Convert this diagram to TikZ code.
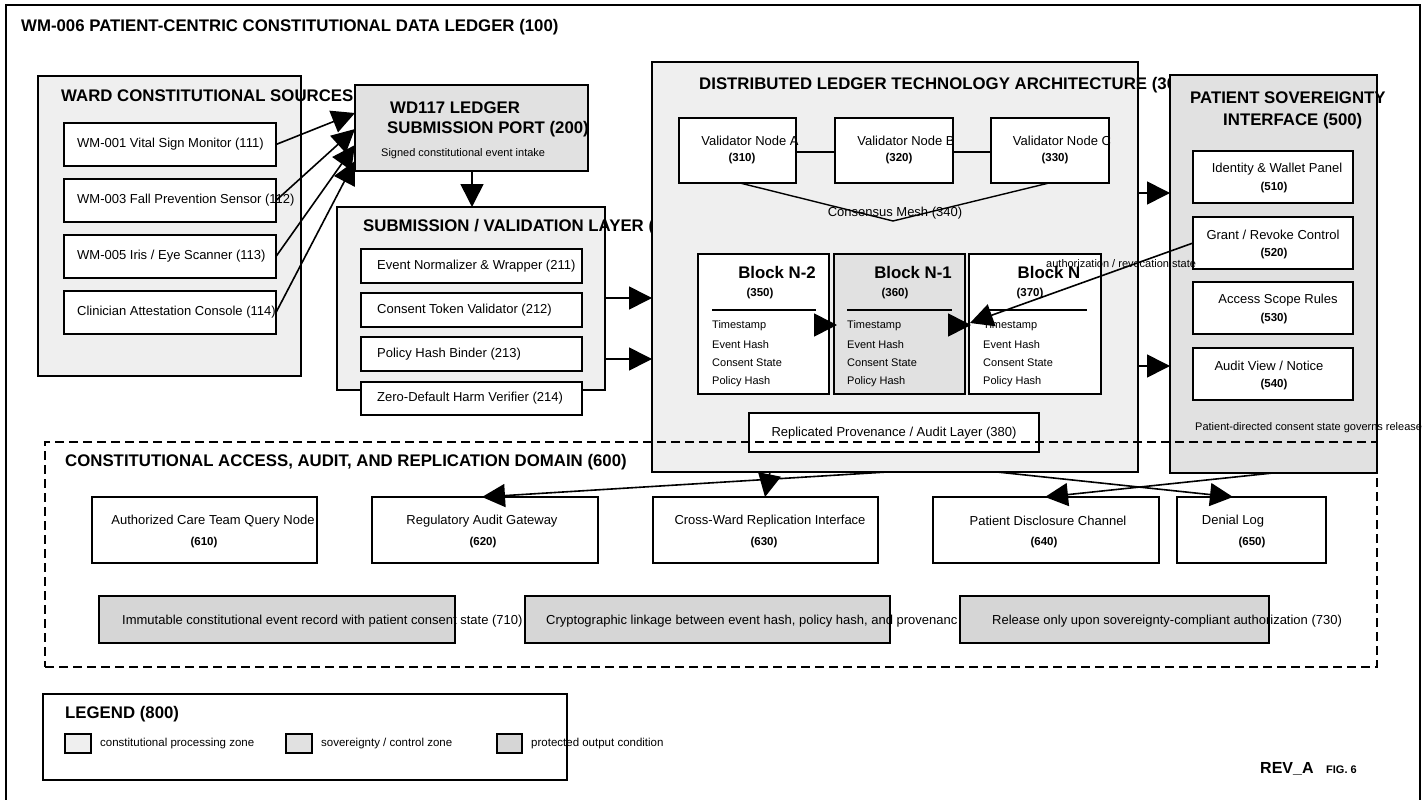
\documentclass[tikz,border=0pt]{standalone}
\usepackage{fontspec}
\setmainfont{Liberation Sans}
\usetikzlibrary{arrows.meta,calc}
\definecolor{zoneA}{HTML}{EFEFEF}
\definecolor{zoneB}{HTML}{E1E1E1}
\definecolor{zoneC}{HTML}{D6D6D6}
% \rbox[style]{name}{x1}{y1}{x2}{y2}: rectangle node from top-left to bottom-right
\newcommand\rbox[6][]{\node[box,#1,minimum width={(#5-#3)*1pt},minimum height={(#6-#4)*1pt}] (#2) at (#3,#4) {};}
\begin{document}
\begin{tikzpicture}[x=1pt,y=-1pt,
  box/.style={draw=black,line width=1.6pt,inner sep=0pt,outer sep=0pt,anchor=north west,fill=white},
  ttl/.style={font=\fontsize{16.8}{19}\selectfont\bfseries,inner sep=0pt,anchor=west},
  lbl/.style={font=\fontsize{13}{15}\selectfont,inner sep=0pt},
  sml/.style={font=\fontsize{11}{13}\selectfont,inner sep=0pt},
  num/.style={font=\fontsize{11.5}{13}\selectfont\bfseries,inner sep=0pt},
  blk/.style={font=\fontsize{16.8}{19}\selectfont\bfseries,inner sep=0pt},
  arr/.style={line width=1.6pt,-{Triangle[length=23pt,width=23pt]}},
  link/.style={line width=1.4pt},
  domainbox/.style={draw=black,line width=1.3pt,dash pattern=on 9pt off 5pt,inner sep=0pt,outer sep=0pt,anchor=north west,fill=none},
]
\useasboundingbox (0,0) rectangle (1425,800);
\clip (0,0) rectangle (1425,800);
\fill[white] (0,0) rectangle (1425,800);

% outer frame and title
\rbox[fill=none,line width=1.5pt]{frame}{6}{5}{1420}{810}
\node[ttl] (title) at (21,27) {WM-006 PATIENT-CENTRIC CONSTITUTIONAL DATA LEDGER (100)};

% ward sources
\rbox[fill=zoneA]{ward}{38}{76}{301}{376}
\node[ttl] (wardt) at (61,96) {WARD CONSTITUTIONAL SOURCES};
\rbox{i111}{64}{123}{276}{166}
\rbox{i112}{64}{179}{276}{222}
\rbox{i113}{64}{235}{276}{278}
\rbox{i114}{64}{291}{276}{334}
\node[lbl,anchor=west] (t111) at (77,144.5) {WM-001 Vital Sign Monitor (111)};
\node[lbl,anchor=west] (t112) at (77,200.5) {WM-003 Fall Prevention Sensor (112)};
\node[lbl,anchor=west] (t113) at (77,256.5) {WM-005 Iris / Eye Scanner (113)};
\node[lbl,anchor=west] (t114) at (77,312.5) {Clinician Attestation Console (114)};

% submission port
\rbox[fill=zoneB]{wd}{355}{85}{588}{171}
\node[ttl] (wdt1) at (390,108) {WD117 LEDGER};
\node[ttl] (wdt2) at (387,129) {SUBMISSION PORT (200)};
\node[sml,anchor=west] (wdt3) at (381,154) {Signed constitutional event intake};

% submission / validation layer
\rbox[fill=zoneA]{sub}{337}{207}{605}{390}
\node[ttl] (subt) at (363,227) {SUBMISSION / VALIDATION LAYER (};
\rbox{s211}{361}{249}{582}{283}
\rbox{s212}{361}{293}{582}{327}
\rbox{s213}{361}{337}{582}{371}
\rbox{s214}{361}{382}{582}{415}
\node[lbl,anchor=west] (t211) at (377,266) {Event Normalizer \& Wrapper (211)};
\node[lbl,anchor=west] (t212) at (377,310) {Consent Token Validator (212)};
\node[lbl,anchor=west] (t213) at (377,354) {Policy Hash Binder (213)};
\node[lbl,anchor=west] (t214) at (377,398.5) {Zero-Default Harm Verifier (214)};

% distributed ledger
\rbox[fill=zoneA]{dlt}{652}{62}{1138}{472}
\node[ttl] (dltt) at (699,85) {DISTRIBUTED LEDGER TECHNOLOGY ARCHITECTURE (30};
\rbox{v310}{679}{118}{796}{183}
\rbox{v320}{835}{118}{953}{183}
\rbox{v330}{991}{118}{1109}{183}
\node[lbl] (tv310) at (750,141) {Validator Node A};
\node[lbl] (tv320) at (906,141) {Validator Node B};
\node[lbl] (tv330) at (1062,141) {Validator Node C};
\node[num] (nv310) at (742,159) {(310)};
\node[num] (nv320) at (899,159) {(320)};
\node[num] (nv330) at (1055,159) {(330)};
\draw[link] (v310.east |- 0,152) -- (v320.west |- 0,152);
\draw[link] (v320.east |- 0,152) -- (v330.west |- 0,152);
\coordinate (mesh) at (893,221);
\draw[link] ($(v310.south west)+(61,0)$) -- (mesh) -- ($(v330.south west)+(58,0)$);
\node[lbl] (mesht) at (895,213) {Consensus Mesh (340)};

% blocks
\rbox{b350}{698}{254}{829}{394}
\rbox[fill=zoneB]{b360}{834}{254}{965}{394}
\rbox{b370}{969}{254}{1101}{394}
\node[blk] (tb350) at (777,272) {Block N-2};
\node[blk] (tb360) at (913,272) {Block N-1};
\node[blk] (tb370) at (1049,272) {Block N};
\node[num] (nb350) at (760,294) {(350)};
\node[num] (nb360) at (895,294) {(360)};
\node[num] (nb370) at (1030,294) {(370)};
\draw[link] (712,310) -- (816,310);
\draw[link] (847,310) -- (952,310);
\draw[link] (983,310) -- (1087,310);
\foreach \bx/\bn in {712/350,847/360,983/370}{
  \node[sml,anchor=west] (f\bn a) at (\bx,326) {Timestamp};
  \node[sml,anchor=west] (f\bn b) at (\bx,344.5) {Event Hash};
  \node[sml,anchor=west] (f\bn c) at (\bx,363) {Consent State};
  \node[sml,anchor=west] (f\bn d) at (\bx,381.5) {Policy Hash};
}
\rbox{r380}{749}{413}{1039}{452}
\node[lbl] (tr380) at (894,433) {Replicated Provenance / Audit Layer (380)};

% patient sovereignty interface
\rbox[fill=zoneB]{psi}{1170}{75}{1377}{473}
\node[ttl] (psit1) at (1190,98) {PATIENT SOVEREIGNTY};
\node[ttl] (psit2) at (1223,121) {INTERFACE (500)};
\rbox{p510}{1193}{151}{1353}{203}
\rbox{p520}{1193}{217}{1353}{269}
\rbox{p530}{1193}{282}{1353}{334}
\rbox{p540}{1193}{348}{1353}{400}
\node[lbl] (tp510) at (1277,169) {Identity \& Wallet Panel};
\node[lbl] (tp520) at (1273,235) {Grant / Revoke Control};
\node[lbl] (tp530) at (1278,300) {Access Scope Rules};
\node[lbl] (tp540) at (1269,366) {Audit View / Notice};
\node[num] (np510) at (1274,188) {(510)};
\node[num] (np520) at (1274,254) {(520)};
\node[num] (np530) at (1274,319) {(530)};
\node[num] (np540) at (1274,385) {(540)};
\node[sml,anchor=west] (psin) at (1195,428) {Patient-directed consent state governs release};

% flow arrows
\draw[arr] (i111.east) -- ($(wd.north west)+(0,28)$);
\draw[arr] (i112.east) -- ($(wd.north west)+(0,44)$);
\draw[arr] (i113.east) -- ($(wd.north west)+(0,60)$);
\draw[arr] (i114.east) -- ($(wd.north west)+(0,76)$);
\draw[arr] ($(wd.south west)+(117,0)$) coordinate (wdout) -- (wdout |- sub.north);
\draw[arr] ($(sub.north east)+(0,91)$) coordinate (so1) -- (so1 -| dlt.west);
\draw[arr] ($(sub.north east)+(0,152)$) coordinate (so2) -- (so2 -| dlt.west);
\draw[arr] ($(dlt.north east)+(0,131)$) coordinate (do1) -- (do1 -| psi.west);
\draw[arr] ($(dlt.north east)+(0,304)$) coordinate (do2) -- (do2 -| psi.west);
\draw[arr] ($(b350.north east)+(0,71)$) coordinate (ch1) -- ($(b360.north west)+(3,71)$);
\draw[arr] ($(b360.north east)+(0,71)$) coordinate (ch2) -- ($(b370.north west)+(2,71)$);
\draw[arr] (p520.west) -- ($(b370.north west)+(1,69)$);
\node[sml,anchor=west] (grantt) at (1046,264) {authorization / revocation state};

% access, audit and replication domain
\rbox[domainbox]{dom}{45}{442}{1377}{667}
\node[ttl] (domt) at (65,462) {CONSTITUTIONAL ACCESS, AUDIT, AND REPLICATION DOMAIN (600)};
\rbox{d610}{92}{497}{317}{563}
\rbox{d620}{372}{497}{598}{563}
\rbox{d630}{653}{497}{878}{563}
\rbox{d640}{933}{497}{1159}{563}
\rbox{d650}{1177}{497}{1326}{563}
\node[lbl] (td610) at (213,521) {Authorized Care Team Query Node};
\node[lbl] (td620) at (482,521) {Regulatory Audit Gateway};
\node[lbl] (td630) at (770,521) {Cross-Ward Replication Interface};
\node[lbl] (td640) at (1048,521) {Patient Disclosure Channel};
\node[lbl] (td650) at (1233,521) {Denial Log};
\node[num] (nd610) at (204,543) {(610)};
\node[num] (nd620) at (483,543) {(620)};
\node[num] (nd630) at (764,543) {(630)};
\node[num] (nd640) at (1044,543) {(640)};
\node[num] (nd650) at (1252,543) {(650)};

\rbox[fill=zoneC]{o710}{99}{596}{455}{643}
\node[lbl,anchor=west] (to710) at (122,621) {Immutable constitutional event record with patient consent state (710)};
\rbox[fill=zoneC]{o720}{525}{596}{890}{643}
\node[lbl,anchor=west] (to720) at (546,621) {Cryptographic linkage between event hash, policy hash, and provenanc};
\rbox[fill=zoneC]{o730}{960}{596}{1269}{643}
\node[lbl,anchor=west] (to730) at (992,621) {Release only upon sovereignty-compliant authorization (730)};

\draw[arr] ($(dlt.south west)+(235,0)$) -- ($(d620.north west)+(110,0)$);
\draw[arr] ($(dlt.south west)+(118,0)$) -- ($(d630.north west)+(112,0)$);
\draw[arr] ($(dlt.south west)+(345,0)$) -- ($(d650.north west)+(56,0)$);
\draw[arr] ($(psi.south west)+(103,0)$) -- ($(d640.north west)+(112,0)$);

% legend
\rbox{legend}{43}{694}{567}{780}
\node[ttl] (legt) at (65,714) {LEGEND (800)};
\rbox[fill=zoneA,line width=1.4pt]{sw1}{65}{734}{91}{753}
\rbox[fill=zoneB,line width=1.4pt]{sw2}{286}{734}{312}{753}
\rbox[fill=zoneC,line width=1.4pt]{sw3}{497}{734}{522}{753}
\node[sml,anchor=west,font=\fontsize{11.5}{13}\selectfont] (lg1) at (100,744) {constitutional processing zone};
\node[sml,anchor=west,font=\fontsize{11.5}{13}\selectfont] (lg2) at (321,744) {sovereignty / control zone};
\node[sml,anchor=west,font=\fontsize{11.5}{13}\selectfont] (lg3) at (531,744) {protected output condition};

% revision mark
\node[ttl,font=\fontsize{16}{19}\selectfont\bfseries] (rev) at (1260,769) {REV\_A};
\node[ttl,font=\fontsize{11}{13}\selectfont\bfseries] (fig) at (1326,770) {FIG. 6};
\end{tikzpicture}
\end{document}
